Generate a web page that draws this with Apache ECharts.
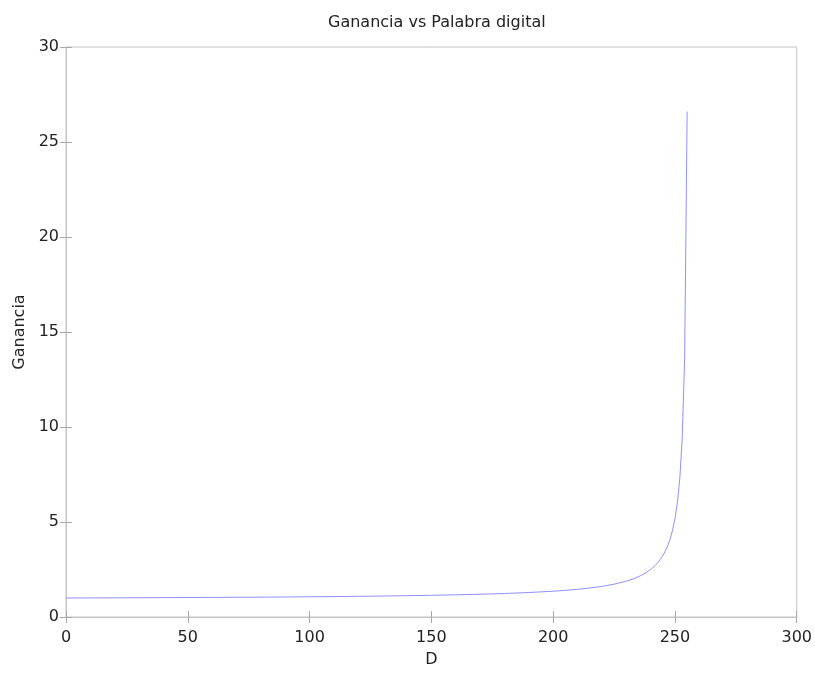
<!DOCTYPE html>
<html>
<head>
<meta charset="utf-8">
<script src="https://cdn.jsdelivr.net/npm/echarts@6/dist/echarts.min.js"></script>
<style>
html,body{margin:0;padding:0;background:#fff;}
#chart{width:815px;height:673px;}
</style>
</head>
<body>
<div id="chart"></div>
<script>
const titleText = 'Ganancia vs Palabra digital';
const xName = 'D';
const yName = 'Ganancia';
const xTicks = [0, 50, 100, 150, 200, 250, 300];
const yTicks = [0, 5, 10, 15, 20, 25, 30];
const dValues = [0, 10, 20, 30, 40, 50, 60, 70, 80, 90, 100, 110, 120, 130, 140, 150, 160, 170, 180, 190, 200, 205, 210, 215, 220, 225, 230, 232, 234, 236, 238, 240, 241, 242, 243, 244, 245, 246, 247, 248, 249, 250, 251, 252, 253, 254, 255];
const gValues = [1.00, 1.004, 1.008, 1.013, 1.019, 1.024, 1.031, 1.038, 1.045, 1.054, 1.064, 1.075, 1.088, 1.103, 1.121, 1.142, 1.167, 1.198, 1.237, 1.288, 1.357, 1.402, 1.457, 1.524, 1.611, 1.726, 1.885, 1.967, 2.064, 2.18, 2.322, 2.5, 2.607, 2.729, 2.869, 3.033, 3.227, 3.46, 3.744, 4.1, 4.557, 5.167, 6.02, 7.3, 9.433, 13.7, 26.6];

const seriesData = dValues.map((d, i) => [d, gValues[i]]);
const font = 'DejaVu Sans';
const frameColor = '#c4c4c4';
const tickColor = '#a8a8a8';
const textColor = '#222';

const chart = echarts.init(document.getElementById('chart'), null, {renderer: 'canvas'});
chart.setOption({
  animation: false,
  backgroundColor: '#fff',
  title: {
    text: titleText,
    left: 323,
    top: 10,
    textStyle: {fontFamily: font, fontSize: 16, fontWeight: 'normal', color: textColor}
  },
  grid: {
    left: 66, right: 17, top: 47, bottom: 50,
    show: true, borderColor: frameColor, borderWidth: 1, containLabel: false
  },
  xAxis: [{
    type: 'value', min: xTicks[0], max: xTicks[xTicks.length - 1], interval: 50,
    name: xName, nameLocation: 'middle', nameGap: 35,
    nameTextStyle: {fontFamily: font, fontSize: 16, color: textColor},
    axisLine: {show: true, lineStyle: {color: frameColor}},
    axisTick: {show: true, inside: true, length: 6, lineStyle: {color: tickColor}},
    axisLabel: {fontFamily: font, fontSize: 16, color: textColor, margin: 13},
    splitLine: {show: false}
  }, {
    type: 'value', position: 'top', min: xTicks[0], max: xTicks[xTicks.length - 1], interval: 50,
    axisLine: {show: true, lineStyle: {color: frameColor}},
    axisTick: {show: true, inside: true, length: 6, lineStyle: {color: tickColor}},
    axisLabel: {show: false}, splitLine: {show: false}
  }],
  yAxis: [{
    type: 'value', min: yTicks[0], max: yTicks[yTicks.length - 1], interval: 5,
    name: yName, nameLocation: 'middle', nameGap: 37, nameRotate: 90,
    nameTextStyle: {fontFamily: font, fontSize: 16, color: textColor},
    axisLine: {show: true, lineStyle: {color: frameColor}},
    axisTick: {show: true, inside: true, length: 6, lineStyle: {color: tickColor}},
    axisLabel: {fontFamily: font, fontSize: 16, color: textColor, margin: 7},
    splitLine: {show: false}
  }, {
    type: 'value', position: 'right', min: yTicks[0], max: yTicks[yTicks.length - 1], interval: 5,
    axisLine: {show: true, lineStyle: {color: frameColor}},
    axisTick: {show: true, inside: true, length: 6, lineStyle: {color: tickColor}},
    axisLabel: {show: false}, splitLine: {show: false}
  }],
  series: [{
    type: 'line',
    data: seriesData,
    xAxisIndex: 0, yAxisIndex: 0,
    showSymbol: false,
    smooth: false,
    lineStyle: {color: '#9090ff', width: 1},
    emphasis: {disabled: true}
  }]
});
</script>
</body>
</html>
